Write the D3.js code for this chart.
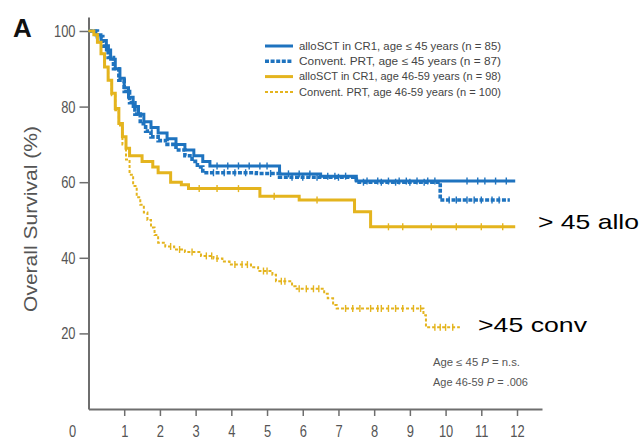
<!DOCTYPE html>
<html>
<head>
<meta charset="utf-8">
<script src="https://cdn.jsdelivr.net/npm/d3@7/dist/d3.min.js"></script>
<style>
  html, body { margin: 0; padding: 0; background: #fff; }
  svg { display: block; }
</style>
</head>
<body>
<svg id="chart" width="642" height="439"></svg>
<script>
// Overall survival (%) by years since diagnosis, step points [years, survival]
const alloYoungTimes = [0, 0.2, 0.35, 0.5, 0.62, 0.75, 0.88, 1.0, 1.12, 1.25, 1.4, 1.55, 1.75, 1.95, 2.2, 2.45, 2.7, 2.95, 3.2, 3.4, 5.35, 6.5, 7.5, 11.95];
const alloYoungSurv  = [100, 99, 97.5, 95, 92.5, 90, 87.5, 85, 82.5, 80, 78, 76, 74.5, 73, 71.5, 70, 68.5, 67, 65.5, 64.3, 62.2, 61.6, 60.3, 60.3];
const alloYoungCens  = [3.6, 3.9, 4.2, 4.5, 4.8, 5.0, 5.6, 5.9, 6.2, 6.7, 6.9, 7.2, 7.8, 8.1, 8.4, 8.7, 8.9, 9.2, 9.5, 9.7, 10.6, 10.9, 11.1, 11.4, 11.7];

const convYoungTimes = [0, 0.25, 0.4, 0.55, 0.7, 0.85, 1.0, 1.15, 1.3, 1.45, 1.6, 1.75, 1.95, 2.2, 2.45, 2.7, 2.9, 3.05, 3.2, 4.7, 5.35, 7.5, 9.85, 11.8];
const convYoungSurv  = [100, 98.5, 96, 93, 90, 87, 84, 81, 78, 75.5, 73.5, 72, 71, 70, 68.5, 67, 65.5, 64, 62.5, 62.3, 61.3, 60, 55.3, 55.3];
const convYoungCens  = [3.5, 3.8, 4.1, 4.4, 5.1, 5.7, 6.0, 6.4, 7.0, 7.7, 8.2, 8.6, 9.0, 9.4, 10.1, 10.3, 10.6, 10.8, 11.0, 11.3, 11.5];

const alloOldTimes = [0, 0.15, 0.25, 0.35, 0.45, 0.55, 0.65, 0.75, 0.85, 0.95, 1.05, 1.15, 1.5, 1.8, 1.95, 2.3, 2.6, 2.8, 4.8, 5.9, 7.45, 7.9, 11.95];
const alloOldSurv  = [100, 99, 97, 94, 90.5, 87, 83.5, 79.5, 75.5, 72, 69, 67, 65.5, 64, 62.5, 60, 59.3, 58.3, 56.3, 55.3, 52.2, 48.2, 48.2];
const alloOldCens  = [3.1, 3.6, 4.2, 5.2, 6.4, 8.4, 8.8, 9.6, 10.3, 11.0, 11.6];

const convOldTimes = [0, 0.15, 0.25, 0.35, 0.45, 0.55, 0.65, 0.75, 0.85, 0.95, 1.05, 1.15, 1.25, 1.35, 1.45, 1.55, 1.65, 1.75, 1.85, 1.95, 2.15, 2.4, 2.7, 3.15, 3.5, 3.75, 3.95, 4.55, 4.75, 5.15, 5.25, 5.7, 5.8, 6.6, 6.7, 6.85, 6.95, 9.38, 9.45, 10.4];
const convOldSurv  = [100, 99, 97, 94, 90.5, 87, 83, 79, 75, 70, 66, 62, 59, 56, 54, 52, 50, 48, 46, 44, 43, 42.2, 41.5, 40.5, 39.8, 39, 38.2, 37.5, 36.5, 35.5, 33.8, 32.5, 31.8, 30.5, 29.3, 27.5, 26.6, 24.8, 21.6, 21.6];
const convOldCens  = [2.3, 2.55, 2.9, 3.3, 3.45, 3.6, 4.1, 4.3, 4.45, 4.9, 5.0, 5.4, 5.5, 5.9, 6.1, 6.3, 6.45, 7.2, 7.4, 7.6, 7.9, 8.1, 8.2, 8.4, 8.6, 8.8, 9.1, 9.3, 9.7, 9.85, 10.0, 10.2];

const xTicks = [1, 2, 3, 4, 5, 6, 7, 8, 9, 10, 11, 12];
const yTicks = [20, 40, 60, 80, 100];

const legendLabels = [
  "alloSCT in CR1, age \u2264 45 years (n = 85)",
  "Convent. PRT, age \u2264 45 years (n = 87)",
  "alloSCT in CR1, age 46-59 years (n = 98)",
  "Convent. PRT, age 46-59 years (n = 100)"
];

const BLUE = "#1e73bf";
const GOLD = "#e4b41e";

const series = [
  { t: alloYoungTimes, s: alloYoungSurv, c: alloYoungCens, color: BLUE, width: 3, dash: null },
  { t: convYoungTimes, s: convYoungSurv, c: convYoungCens, color: BLUE, width: 3.6, dash: "4,1.6" },
  { t: alloOldTimes, s: alloOldSurv, c: alloOldCens, color: GOLD, width: 3, dash: null },
  { t: convOldTimes, s: convOldSurv, c: convOldCens, color: GOLD, width: 2, dash: "3,2" }
];

const svg = d3.select("#chart");
const x = d3.scaleLinear().domain([0, 12.7]).range([88.5, 542]);
const y = d3.scaleLinear().domain([0, 103.7]).range([409, 17]);
const AXIS = "#6e6e6e";
const FONT = "Liberation Sans, Arial, sans-serif";
const SQUEEZE = 0.76;   // horizontal compression for the condensed tick lettering

// panel letter
svg.append("text").attr("x", 13).attr("y", 37)
  .attr("font-family", FONT)
  .attr("font-weight", "bold").attr("font-size", 26).attr("fill", "#111").text("A");

// axes
const gx = svg.append("g").attr("transform", `translate(0,${y(0)})`)
  .call(d3.axisBottom(x).tickValues(xTicks).tickFormat(d3.format("d")).tickSize(7).tickPadding(9).tickSizeOuter(0));
const gy = svg.append("g").attr("transform", `translate(${x(0)},0)`)
  .call(d3.axisLeft(y).tickValues(yTicks).tickSize(9).tickPadding(4).tickSizeOuter(0));

[gx, gy].forEach(g => {
  g.select(".domain").attr("stroke", AXIS).attr("stroke-width", 2);
  g.selectAll(".tick line").attr("stroke", AXIS).attr("stroke-width", 1.5);
  g.selectAll(".tick text")
    .attr("font-family", FONT)
    .attr("fill", "#555").attr("font-size", 17);
});
// compress tick labels horizontally around their anchor
gx.selectAll(".tick text").attr("transform", `scale(${SQUEEZE},1)`);
gy.selectAll(".tick text").attr("x", -13 / SQUEEZE).attr("transform", `scale(${SQUEEZE},1)`);

svg.append("text")
  .attr("transform", `translate(${x(0) - 16},0) scale(${SQUEEZE},1)`)
  .attr("x", 0).attr("y", y(0) + 16).attr("dy", "0.71em").attr("text-anchor", "middle")
  .attr("font-family", FONT)
  .attr("fill", "#555").attr("font-size", 17).text("0");

// y-axis title
svg.append("text")
  .attr("transform", "translate(37,219) rotate(-90)")
  .attr("font-family", FONT)
  .attr("text-anchor", "middle").attr("fill", "#555").attr("font-size", 18)
  .attr("textLength", 186).attr("lengthAdjust", "spacingAndGlyphs")
  .text("Overall Survival (%)");

// survival curves
const line = d3.line().x(d => x(d[0])).y(d => y(d[1])).curve(d3.curveStepAfter);

// survival at time t for a step function
function survAt(ser, t) {
  let v = ser.s[0];
  for (let i = 0; i < ser.t.length; i++) { if (ser.t[i] <= t) v = ser.s[i]; }
  return v;
}

series.forEach(ser => {
  const pts = ser.t.map((t, i) => [t, ser.s[i]]);
  svg.append("path").datum(pts)
    .attr("d", line).attr("fill", "none")
    .attr("stroke", ser.color).attr("stroke-width", ser.width)
    .attr("stroke-dasharray", ser.dash);
  svg.append("g").selectAll("line").data(ser.c).join("line")
    .attr("x1", d => x(d)).attr("x2", d => x(d))
    .attr("y1", d => y(survAt(ser, d)) - 3.5).attr("y2", d => y(survAt(ser, d)) + 3.5)
    .attr("stroke", ser.color).attr("stroke-width", 1.4);
});

// legend
const lg = svg.append("g");
legendLabels.forEach((lab, i) => {
  const ser = series[i];
  const ly = 46 + i * 15.3;
  lg.append("line").attr("x1", 265).attr("x2", 293).attr("y1", ly).attr("y2", ly)
    .attr("stroke", ser.color).attr("stroke-width", ser.width)
    .attr("stroke-dasharray", ser.dash);
  lg.append("text")
    .attr("font-family", FONT)
    .attr("x", 299).attr("y", ly + 3.8).attr("font-size", 11).attr("fill", "#444")
    .attr("textLength", 202).attr("lengthAdjust", "spacingAndGlyphs")
    .text(lab);
});

// p-values
const pRows = [
  { pre: "Age \u2264 45 ", post: " = n.s.", y: 366, w: 87 },
  { pre: "Age 46-59 ", post: " = .006", y: 386, w: 95 }
];
pRows.forEach(r => {
  const t = svg.append("text")
    .attr("font-family", FONT)
    .attr("x", 433).attr("y", r.y).attr("font-size", 10.5).attr("fill", "#555")
    .attr("textLength", r.w).attr("lengthAdjust", "spacingAndGlyphs");
  t.append("tspan").text(r.pre);
  t.append("tspan").attr("font-style", "italic").text("P");
  t.append("tspan").text(r.post);
});

// curve annotations
svg.append("text").attr("x", 538).attr("y", 229)
  .attr("font-family", FONT).attr("font-size", 21).attr("fill", "#000")
  .attr("textLength", 101).attr("lengthAdjust", "spacingAndGlyphs").text("> 45 allo");
svg.append("text").attr("x", 478).attr("y", 332)
  .attr("font-family", FONT).attr("font-size", 21).attr("fill", "#000")
  .attr("textLength", 109).attr("lengthAdjust", "spacingAndGlyphs").text(">45 conv");
</script>
</body>
</html>
